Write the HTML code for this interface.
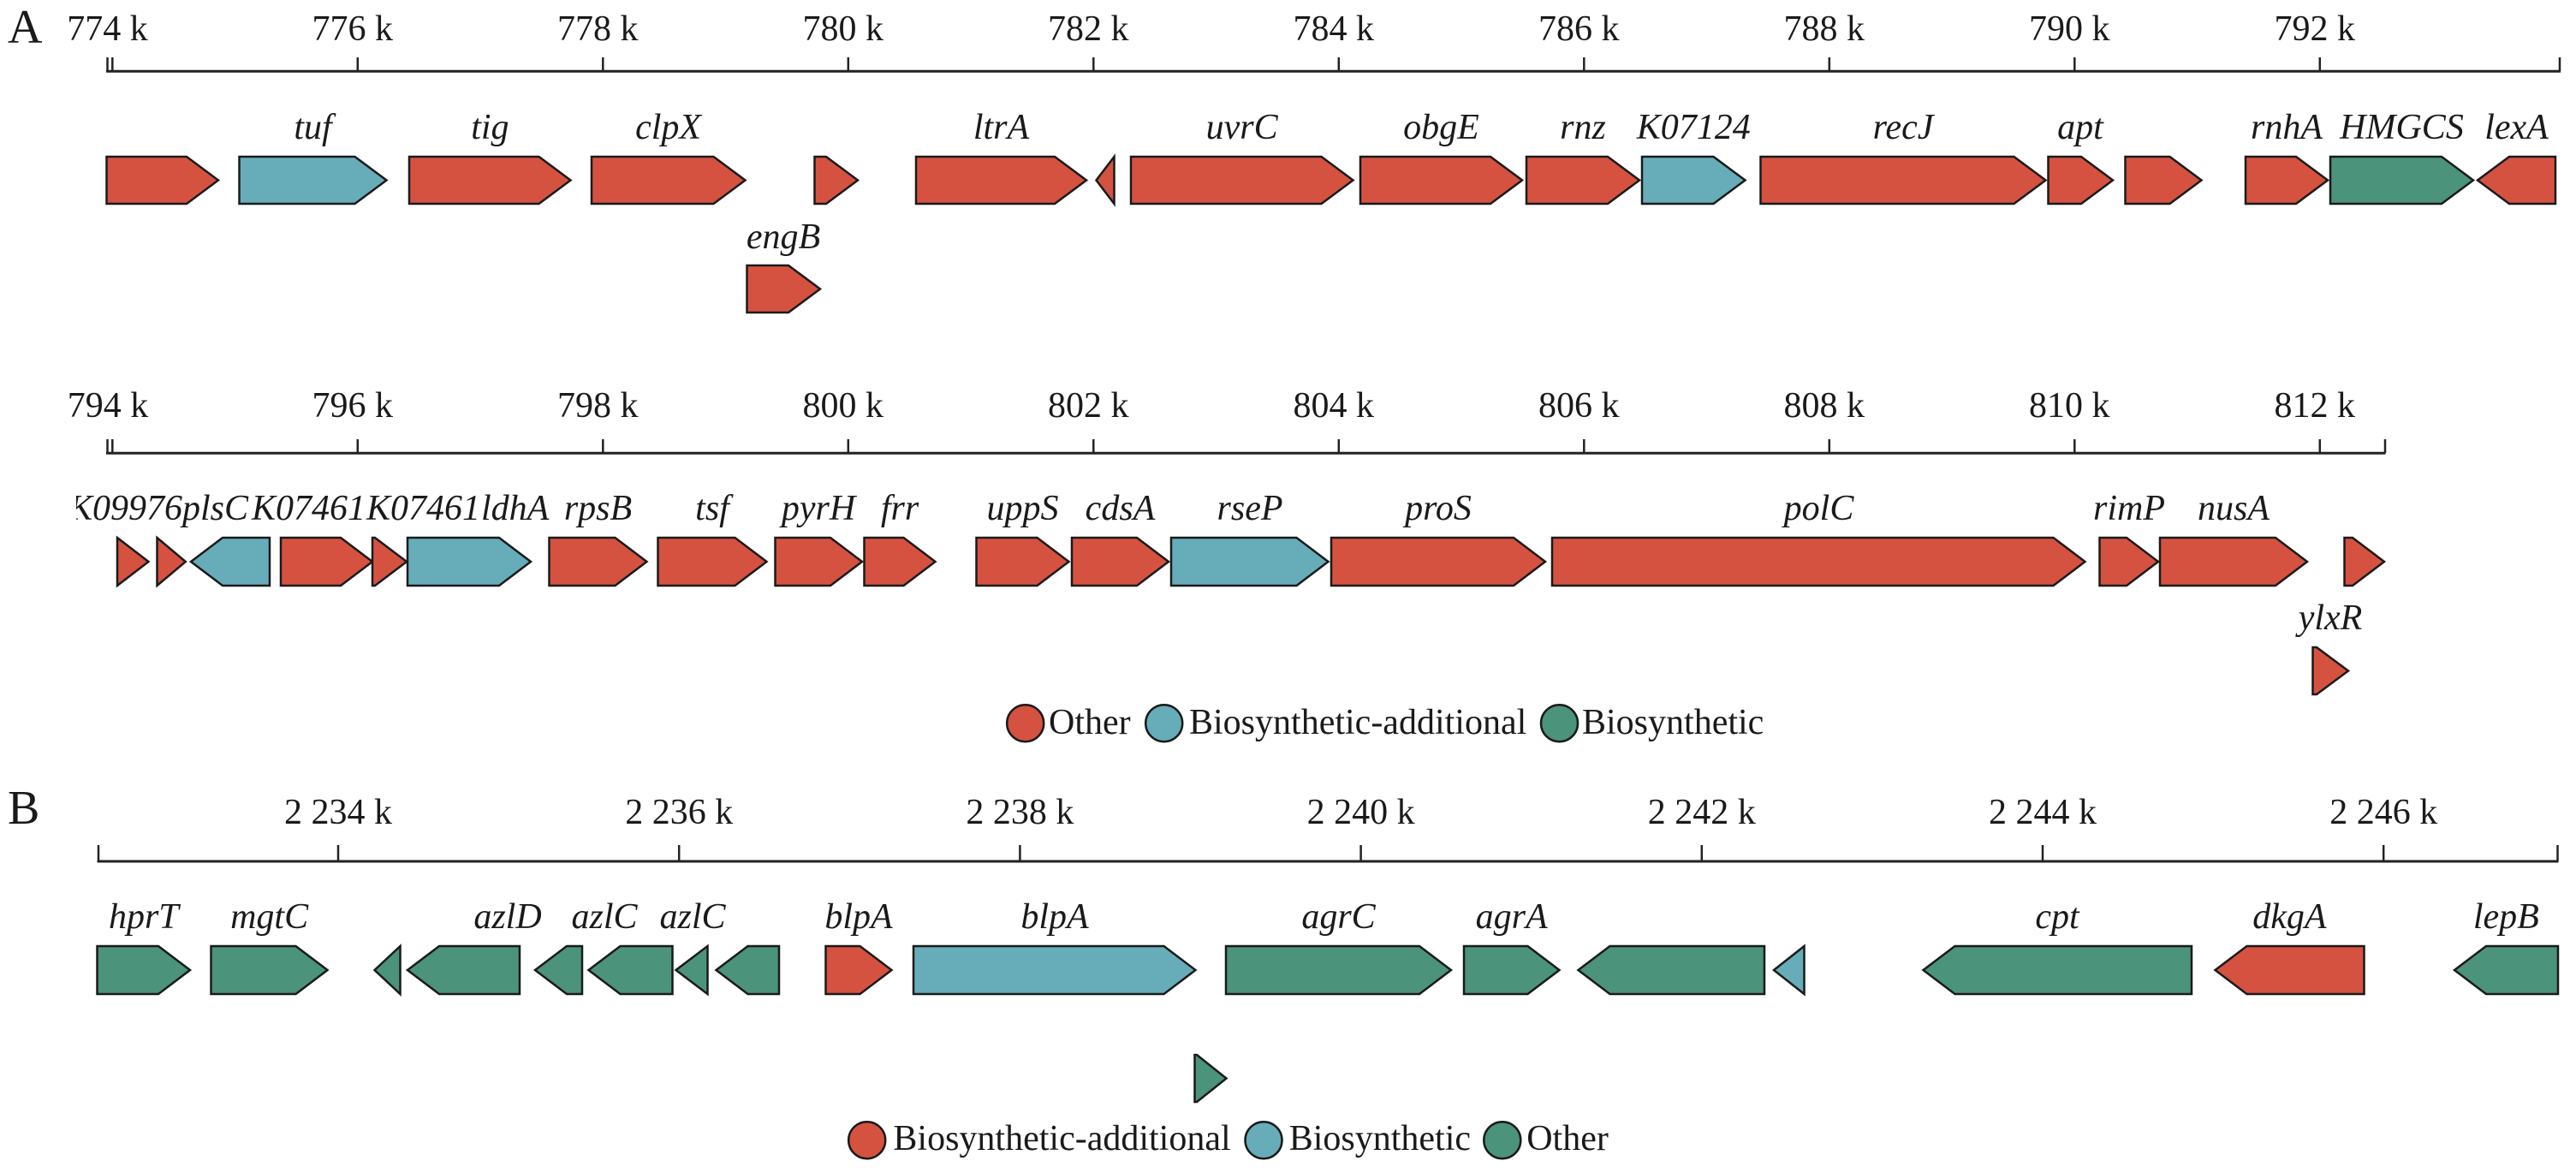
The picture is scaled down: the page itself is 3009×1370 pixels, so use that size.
<!DOCTYPE html>
<html>
<head>
<meta charset="utf-8">
<style>
html,body{margin:0;padding:0;background:#fff;}
svg{display:block;}
.t{font-family:"Liberation Serif","Times New Roman",serif;font-size:42px;fill:#1a1a1a;}
.g{font-family:"Liberation Serif","Times New Roman",serif;font-size:42px;font-style:italic;fill:#1a1a1a;}
.p{font-family:"Liberation Serif","Times New Roman",serif;font-size:56px;fill:#1a1a1a;}
.r{fill:#D55241;stroke:#1a1a1a;stroke-width:2.5;stroke-linejoin:miter;}
.b{fill:#66ADB9;stroke:#1a1a1a;stroke-width:2.5;stroke-linejoin:miter;}
.n{fill:#4B937A;stroke:#1a1a1a;stroke-width:2.5;stroke-linejoin:miter;}
.ax{stroke:#222;stroke-width:3;fill:none;}
.tk{stroke:#222;stroke-width:2.5;fill:none;}
</style>
</head>
<body>
<svg width="3009" height="1370" viewBox="0 0 3009 1370" xmlns="http://www.w3.org/2000/svg">
<defs>
<clipPath id="clipK"><rect x="89" y="560" width="200" height="70"/></clipPath>
</defs>
<rect width="3009" height="1370" fill="#fff"/>

<!-- ================= PANEL A, track 1 ================= -->
<text class="p" x="9" y="50">A</text>
<line class="ax" x1="124" y1="83.3" x2="2991" y2="83.3"/>
<g class="tk">
<line x1="125.5" y1="67" x2="125.5" y2="83"/>
<line x1="131.3" y1="67" x2="131.3" y2="83"/>
<line x1="417.8" y1="67" x2="417.8" y2="83"/>
<line x1="704.3" y1="67" x2="704.3" y2="83"/>
<line x1="990.8" y1="67" x2="990.8" y2="83"/>
<line x1="1277.3" y1="67" x2="1277.3" y2="83"/>
<line x1="1563.8" y1="67" x2="1563.8" y2="83"/>
<line x1="1850.3" y1="67" x2="1850.3" y2="83"/>
<line x1="2136.8" y1="67" x2="2136.8" y2="83"/>
<line x1="2423.3" y1="67" x2="2423.3" y2="83"/>
<line x1="2709.8" y1="67" x2="2709.8" y2="83"/>
<line x1="2990" y1="67" x2="2990" y2="83"/>
</g>
<g class="t" text-anchor="middle">
<text x="125.5" y="47">774 k</text>
<text x="411.8" y="47">776 k</text>
<text x="698.3" y="47">778 k</text>
<text x="984.8" y="47">780 k</text>
<text x="1271.3" y="47">782 k</text>
<text x="1557.8" y="47">784 k</text>
<text x="1844.3" y="47">786 k</text>
<text x="2130.8" y="47">788 k</text>
<text x="2417.3" y="47">790 k</text>
<text x="2703.8" y="47">792 k</text>
</g>

<polygon class="r" points="124.5,183 218,183 255,210.5 218,238 124.5,238"/>
<polygon class="b" points="279.5,183 414.5,183 451.5,210.5 414.5,238 279.5,238"/>
<polygon class="r" points="478,183 629.5,183 666.5,210.5 629.5,238 478,238"/>
<polygon class="r" points="691,183 833.5,183 870.5,210.5 833.5,238 691,238"/>
<polygon class="r" points="951.5,183 965,183 1002,210.5 965,238 951.5,238"/>
<polygon class="r" points="1070,183 1232,183 1269,210.5 1232,238 1070,238"/>
<polygon class="r" points="1280.5,210.5 1301.5,183 1301.5,238"/>
<polygon class="r" points="1321,183 1543.5,183 1580.5,210.5 1543.5,238 1321,238"/>
<polygon class="r" points="1589,183 1741,183 1778,210.5 1741,238 1589,238"/>
<polygon class="r" points="1783,183 1878,183 1915,210.5 1878,238 1783,238"/>
<polygon class="b" points="1918,183 2001.5,183 2038.5,210.5 2001.5,238 1918,238"/>
<polygon class="r" points="2056.5,183 2352.5,183 2389.5,210.5 2352.5,238 2056.5,238"/>
<polygon class="r" points="2392.5,183 2431,183 2468,210.5 2431,238 2392.5,238"/>
<polygon class="r" points="2482.5,183 2534.5,183 2571.5,210.5 2534.5,238 2482.5,238"/>
<polygon class="r" points="2623,183 2682,183 2719,210.5 2682,238 2623,238"/>
<polygon class="n" points="2722,183 2852,183 2889,210.5 2852,238 2722,238"/>
<polygon class="r" points="2894,210.5 2931,183 2985,183 2985,238 2931,238"/>
<polygon class="r" points="872.5,310 921,310 958,337.5 921,365 872.5,365"/>

<g class="g" text-anchor="middle">
<text x="365.5" y="162">tuf</text>
<text x="572.4" y="162">tig</text>
<text x="780.6" y="162">clpX</text>
<text x="1169.5" y="162">ltrA</text>
<text x="1450.6" y="162">uvrC</text>
<text x="1683.5" y="162">obgE</text>
<text x="1849" y="162">rnz</text>
<text x="1978.3" y="162">K07124</text>
<text x="2223" y="162">recJ</text>
<text x="2430" y="162">apt</text>
<text x="2671" y="162">rnhA</text>
<text x="2805.5" y="162">HMGCS</text>
<text x="2939.5" y="162">lexA</text>
<text x="915" y="290">engB</text>
</g>

<!-- ================= PANEL A, track 2 ================= -->
<line class="ax" x1="124" y1="529.3" x2="2786.5" y2="529.3"/>
<g class="tk">
<line x1="125.5" y1="513" x2="125.5" y2="529"/>
<line x1="131.3" y1="513" x2="131.3" y2="529"/>
<line x1="417.8" y1="513" x2="417.8" y2="529"/>
<line x1="704.3" y1="513" x2="704.3" y2="529"/>
<line x1="990.8" y1="513" x2="990.8" y2="529"/>
<line x1="1277.3" y1="513" x2="1277.3" y2="529"/>
<line x1="1563.8" y1="513" x2="1563.8" y2="529"/>
<line x1="1850.3" y1="513" x2="1850.3" y2="529"/>
<line x1="2136.8" y1="513" x2="2136.8" y2="529"/>
<line x1="2423.3" y1="513" x2="2423.3" y2="529"/>
<line x1="2709.8" y1="513" x2="2709.8" y2="529"/>
<line x1="2786" y1="513" x2="2786" y2="529"/>
</g>
<g class="t" text-anchor="middle">
<text x="126" y="487">794 k</text>
<text x="411.8" y="487">796 k</text>
<text x="698.3" y="487">798 k</text>
<text x="984.8" y="487">800 k</text>
<text x="1271.3" y="487">802 k</text>
<text x="1557.8" y="487">804 k</text>
<text x="1844.3" y="487">806 k</text>
<text x="2130.8" y="487">808 k</text>
<text x="2417.3" y="487">810 k</text>
<text x="2703.8" y="487">812 k</text>
</g>

<polygon class="r" points="137,628 173.5,656 137,684"/>
<polygon class="r" points="183.5,628 216.8,656 183.5,684"/>
<polygon class="b" points="223,656 260,628 315,628 315,684 260,684"/>
<polygon class="r" points="328,628 398,628 435,656 398,684 328,684"/>
<polygon class="r" points="435,628 438,628 475,656 438,684 435,684"/>
<polygon class="b" points="476,628 583,628 620,656 583,684 476,684"/>
<polygon class="r" points="641.5,628 718.5,628 755.5,656 718.5,684 641.5,684"/>
<polygon class="r" points="768.5,628 858.5,628 895.5,656 858.5,684 768.5,684"/>
<polygon class="r" points="905.5,628 970,628 1007,656 970,684 905.5,684"/>
<polygon class="r" points="1009.5,628 1055.5,628 1092.5,656 1055.5,684 1009.5,684"/>
<polygon class="r" points="1140.5,628 1211.5,628 1248.5,656 1211.5,684 1140.5,684"/>
<polygon class="r" points="1252,628 1328,628 1365,656 1328,684 1252,684"/>
<polygon class="b" points="1368,628 1514.5,628 1551.5,656 1514.5,684 1368,684"/>
<polygon class="r" points="1555,628 1768,628 1805,656 1768,684 1555,684"/>
<polygon class="r" points="1813,628 2398.5,628 2435.5,656 2398.5,684 1813,684"/>
<polygon class="r" points="2452.5,628 2484,628 2521,656 2484,684 2452.5,684"/>
<polygon class="r" points="2523,628 2658,628 2695,656 2658,684 2523,684"/>
<polygon class="r" points="2738.5,628 2748,628 2785,656 2748,684 2738.5,684"/>
<polygon class="r" points="2701.5,756 2706,756 2743,783.5 2706,811 2701.5,811"/>

<g class="g">
<text x="80" y="607" clip-path="url(#clipK)">K09976</text>
<text x="213" y="607">plsC</text>
<text x="294" y="607">K07461</text>
<text x="428" y="607">K07461</text>
<text x="562" y="607">ldhA</text>
</g>
<g class="g" text-anchor="middle">
<text x="698.5" y="607">rpsB</text>
<text x="832" y="607">tsf</text>
<text x="956" y="607">pyrH</text>
<text x="1051" y="607">frr</text>
<text x="1194.5" y="607">uppS</text>
<text x="1308.5" y="607">cdsA</text>
<text x="1460" y="607">rseP</text>
<text x="1680" y="607">proS</text>
<text x="2124.5" y="607">polC</text>
<text x="2487" y="607">rimP</text>
<text x="2609" y="607">nusA</text>
<text x="2722" y="735">ylxR</text>
</g>

<!-- Legend A -->
<circle class="r" cx="1197.7" cy="844.7" r="21.5"/>
<text class="t" x="1225" y="857">Other</text>
<circle class="b" cx="1359.7" cy="844.7" r="21.5"/>
<text class="t" x="1389" y="857">Biosynthetic-additional</text>
<circle class="n" cx="1821.5" cy="844.7" r="21.5"/>
<text class="t" x="1848" y="857">Biosynthetic</text>

<!-- ================= PANEL B ================= -->
<text class="p" x="9" y="962">B</text>
<line class="ax" x1="113.5" y1="1006" x2="2988.5" y2="1006"/>
<g class="tk">
<line x1="115" y1="987" x2="115" y2="1006"/>
<line x1="395" y1="987" x2="395" y2="1006"/>
<line x1="793.2" y1="987" x2="793.2" y2="1006"/>
<line x1="1191.4" y1="987" x2="1191.4" y2="1006"/>
<line x1="1589.6" y1="987" x2="1589.6" y2="1006"/>
<line x1="1987.8" y1="987" x2="1987.8" y2="1006"/>
<line x1="2386" y1="987" x2="2386" y2="1006"/>
<line x1="2784.2" y1="987" x2="2784.2" y2="1006"/>
<line x1="2987.5" y1="987" x2="2987.5" y2="1006"/>
</g>
<g class="t" text-anchor="middle">
<text x="395" y="962">2 234 k</text>
<text x="793.2" y="962">2 236 k</text>
<text x="1191.4" y="962">2 238 k</text>
<text x="1589.6" y="962">2 240 k</text>
<text x="1987.8" y="962">2 242 k</text>
<text x="2386" y="962">2 244 k</text>
<text x="2784.2" y="962">2 246 k</text>
</g>

<polygon class="n" points="113.5,1105 185,1105 222,1133 185,1161 113.5,1161"/>
<polygon class="n" points="246.5,1105 345.5,1105 382.5,1133 345.5,1161 246.5,1161"/>
<polygon class="n" points="437.5,1133 467.5,1105 467.5,1161"/>
<polygon class="n" points="476,1133 513,1105 607,1105 607,1161 513,1161"/>
<polygon class="n" points="625,1133 662,1105 680,1105 680,1161 662,1161"/>
<polygon class="n" points="687.5,1133 724.5,1105 785.5,1105 785.5,1161 724.5,1161"/>
<polygon class="n" points="789.5,1133 826.5,1105 826.5,1161"/>
<polygon class="n" points="836.5,1133 873.5,1105 910,1105 910,1161 873.5,1161"/>
<polygon class="r" points="964.5,1105 1004.5,1105 1041.5,1133 1004.5,1161 964.5,1161"/>
<polygon class="b" points="1067,1105 1359.5,1105 1396.5,1133 1359.5,1161 1067,1161"/>
<polygon class="n" points="1432,1105 1658,1105 1695,1133 1658,1161 1432,1161"/>
<polygon class="n" points="1710,1105 1784.5,1105 1821.5,1133 1784.5,1161 1710,1161"/>
<polygon class="n" points="1843.5,1133 1880.5,1105 2061,1105 2061,1161 1880.5,1161"/>
<polygon class="b" points="2072,1133 2107.5,1105 2107.5,1161"/>
<polygon class="n" points="2246.5,1133 2283.5,1105 2560,1105 2560,1161 2283.5,1161"/>
<polygon class="r" points="2587.5,1133 2624.5,1105 2761.5,1105 2761.5,1161 2624.5,1161"/>
<polygon class="n" points="2867,1133 2904,1105 2988,1105 2988,1161 2904,1161"/>
<polygon class="n" points="1395.5,1232 1398,1232 1432.5,1259.5 1398,1287 1395.5,1287"/>

<g class="g" text-anchor="middle">
<text x="167.8" y="1084">hprT</text>
<text x="314.6" y="1084">mgtC</text>
<text x="593" y="1084">azlD</text>
<text x="706" y="1084">azlC</text>
<text x="809" y="1084">azlC</text>
<text x="1003" y="1084">blpA</text>
<text x="1232" y="1084">blpA</text>
<text x="1563.5" y="1084">agrC</text>
<text x="1765.6" y="1084">agrA</text>
<text x="2403" y="1084">cpt</text>
<text x="2674.4" y="1084">dkgA</text>
<text x="2927.3" y="1084">lepB</text>
</g>

<!-- Legend B -->
<circle class="r" cx="1012.7" cy="1331.7" r="21.5"/>
<text class="t" x="1043.4" y="1343">Biosynthetic-additional</text>
<circle class="b" cx="1476" cy="1331.7" r="21.5"/>
<text class="t" x="1505.7" y="1343">Biosynthetic</text>
<circle class="n" cx="1754.8" cy="1331.7" r="21.5"/>
<text class="t" x="1783.2" y="1343">Other</text>
</svg>
</body>
</html>
